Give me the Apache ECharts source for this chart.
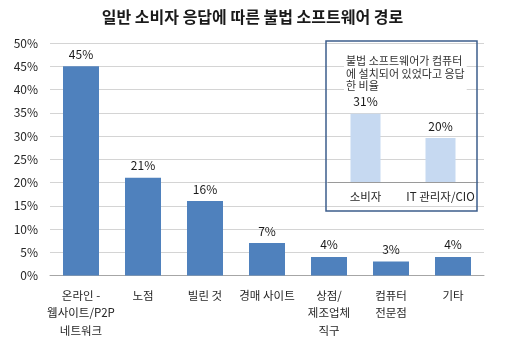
<!DOCTYPE html>
<html>
<head>
<meta charset="utf-8">
<script src="https://cdn.jsdelivr.net/npm/echarts@6/dist/echarts.min.js"></script>
<style>
  html, body { margin: 0; padding: 0; background: #fff; }
  #chart { width: 505px; height: 339px; }
</style>
</head>
<body>
<div id="chart"></div>
<script>
// Main chart: sources of illegal software (consumer responses)
var categories = ['온라인 -\n웹사이트/P2P\n네트워크', '노점', '빌린 것', '경매 사이트', '상점/\n제조업체\n직구', '컴퓨터\n전문점', '기타'];
var values = [45, 21, 16, 7, 4, 3, 4];

// Inset: share reporting illegal software installed on a computer
var insetCategories = ['소비자', 'IT 관리자/CIO'];
var insetValues = [31, 20];
var insetNote = '불법 소프트웨어가 컴퓨터\n에 설치되어 있었다고 응답\n한 비율';

var FONT = '"Noto Sans CJK KR", "Noto Sans", sans-serif';
var chart = echarts.init(document.getElementById('chart'), null, { renderer: 'canvas' });

chart.setOption({
  animation: false,
  backgroundColor: '#ffffff',
  title: {
    text: '일반 소비자 응답에 따른 불법 소프트웨어 경로',
    left: 'center',
    top: 4,
    textStyle: { fontFamily: FONT, fontSize: 16, fontWeight: 'bold', color: '#1a1a1a' }
  },
  grid: [
    { left: 50, right: 21, top: 43, bottom: 62 },
    { left: 328, width: 150, top: 72, height: 110 }
  ],
  xAxis: [
    {
      type: 'category', gridIndex: 0, data: categories,
      axisLine: { lineStyle: { color: '#a6a6a6' } },
      axisTick: { show: false },
      axisLabel: { fontFamily: FONT, fontSize: 11.5, color: '#262626', lineHeight: 17.5, margin: 11, interval: 0 }
    },
    {
      type: 'category', gridIndex: 1, data: insetCategories,
      axisLine: { lineStyle: { color: '#9a9a9a' } },
      axisTick: { show: false },
      axisLabel: { fontFamily: FONT, fontSize: 11.5, color: '#262626', margin: 9, interval: 0 }
    }
  ],
  yAxis: [
    {
      type: 'value', gridIndex: 0, min: 0, max: 50, interval: 5,
      axisLine: { show: false },
      axisTick: { show: false },
      axisLabel: { fontFamily: FONT, fontSize: 12, color: '#262626', margin: 12, formatter: '{value}%' },
      splitLine: { lineStyle: { color: '#d4d4d4', width: 1 } }
    },
    {
      type: 'value', gridIndex: 1, min: 0, max: 50,
      show: false
    }
  ],
  series: [
    {
      type: 'bar', xAxisIndex: 0, yAxisIndex: 0, data: values,
      barWidth: 36,
      itemStyle: { color: '#4f81bd' },
      label: { show: true, position: 'top', distance: 6, formatter: '{c}%', fontFamily: FONT, fontSize: 12, color: '#1a1a1a' }
    },
    {
      type: 'bar', xAxisIndex: 1, yAxisIndex: 1, data: insetValues,
      barWidth: 30,
      itemStyle: { color: '#c6d9f1' },
      label: { show: true, position: 'top', distance: 6, formatter: '{c}%', fontFamily: FONT, fontSize: 12, color: '#1a1a1a' }
    }
  ],
  graphic: [
    {
      type: 'rect', z: 100,
      shape: { x: 326, y: 41, width: 151, height: 170 },
      style: { fill: 'transparent', stroke: '#3d5d8c', lineWidth: 1.5 }
    },
    {
      type: 'text', z: 100,
      x: 344, y: 54,
      style: {
        text: insetNote,
        fontFamily: FONT, fontSize: 11, lineHeight: 12.5,
        fill: '#333333',
        backgroundColor: '#ffffff',
        padding: [1, 2, 0, 2]
      }
    }
  ]
});
</script>
</body>
</html>
